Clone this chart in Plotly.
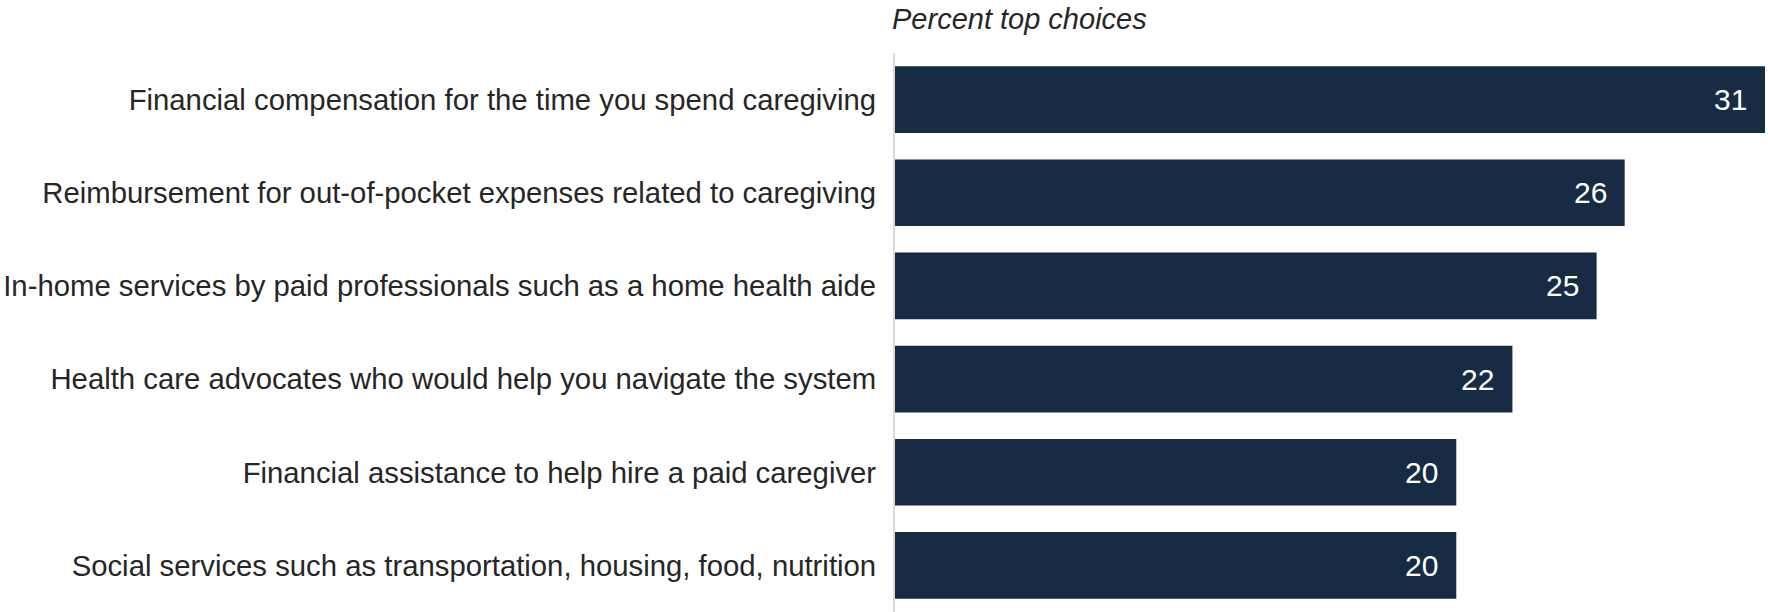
import plotly.graph_objects as go

categories = [
    "Financial compensation for the time you spend caregiving",
    "Reimbursement for out-of-pocket expenses related to caregiving",
    "In-home services by paid professionals such as a home health aide",
    "Health care advocates who would help you navigate the system",
    "Financial assistance to help hire a paid caregiver",
    "Social services such as transportation, housing, food, nutrition",
]
values = [31, 26, 25, 22, 20, 20]
title_text = "Percent top choices"

BAR = "#172b45"
TXT = "#262626"
FONT = "Liberation Sans, Arial, sans-serif"

fig = go.Figure()
fig.add_trace(go.Bar(
    x=values, y=categories, orientation="h",
    marker=dict(color=BAR, line=dict(width=0)),
    hoverinfo="skip",
))

for v, c in zip(values, categories):
    fig.add_annotation(
        x=v, y=c, xref="x", yref="y", text=str(v), showarrow=False,
        xanchor="right", yanchor="middle", xshift=-16,
        font=dict(family=FONT, size=30, color="white"),
    )

fig.update_layout(
    width=1768, height=612,
    margin=dict(l=895, r=3, t=53, b=0, autoexpand=False),
    paper_bgcolor="white", plot_bgcolor="white",
    bargap=0.285,
    showlegend=False,
    font=dict(family=FONT, size=29.3, color=TXT),
    title=dict(
        text="<i>" + title_text + "</i>",
        x=0, xref="paper", xanchor="left",
        y=1 - 19 / 612, yref="container", yanchor="middle",
        font=dict(family=FONT, size=29, color=TXT),
        pad=dict(l=-3, r=0, t=0, b=0),
    ),
    xaxis=dict(range=[0, 31], visible=False, fixedrange=True),
    yaxis=dict(
        autorange="reversed", fixedrange=True,
        showline=True, linecolor="#d9d9d9", linewidth=2,
        showgrid=False, zeroline=False,
        ticks="outside", ticklen=11, tickcolor="rgba(0,0,0,0)",
        tickfont=dict(family=FONT, size=29.3, color=TXT),
    ),
)

fig.write_html(
    "out.html",
    config={"displayModeBar": False, "staticPlot": True},
    post_script="document.body.style.margin='0';",
)
